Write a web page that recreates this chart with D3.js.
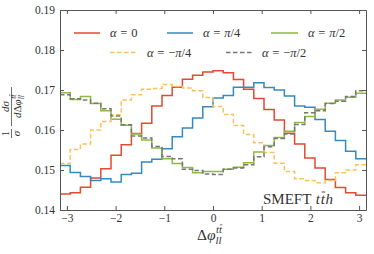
<!DOCTYPE html>
<html lang="en">
<head>
<meta charset="UTF-8">
<title>SMEFT tth</title>
<script src="https://d3js.org/d3.v7.min.js"></script>
<style>
  body { margin: 0; background: #fff; }
  svg { display: block; }
  text { font-family: "Liberation Serif", serif; fill: #333; }
</style>
</head>
<body>
<svg id="chart" width="374" height="254"></svg>
<script>
// normalised distributions, 30 bins over [-pi, pi]
const alphaZero = [0.1440, 0.1443, 0.1457, 0.1480, 0.1503, 0.1537, 0.1563, 0.1591, 0.1617, 0.1660,
                   0.1686, 0.1707, 0.1727, 0.1737, 0.1745, 0.1748, 0.1743, 0.1726, 0.1702, 0.1679,
                   0.1651, 0.1625, 0.1592, 0.1565, 0.1530, 0.1505, 0.1476, 0.1456, 0.1443, 0.1437];
const alphaPi4 = [0.1511, 0.1494, 0.1484, 0.1474, 0.1478, 0.1470, 0.1489, 0.1492, 0.1520, 0.1527,
                  0.1553, 0.1583, 0.1605, 0.1630, 0.1658, 0.1680, 0.1686, 0.1707, 0.1707, 0.1718,
                  0.1706, 0.1700, 0.1685, 0.1660, 0.1657, 0.1626, 0.1597, 0.1574, 0.1547, 0.1528];
const alphaPi2 = [0.1693, 0.1676, 0.1684, 0.1666, 0.1648, 0.1627, 0.1612, 0.1590, 0.1575, 0.1555,
                  0.1528, 0.1516, 0.1506, 0.1493, 0.1496, 0.1496, 0.1502, 0.1507, 0.1518, 0.1545,
                  0.1561, 0.1581, 0.1597, 0.1619, 0.1634, 0.1652, 0.1667, 0.1675, 0.1682, 0.1692];
const alphaMinusPi4 = [0.1516, 0.1551, 0.1565, 0.1600, 0.1621, 0.1638, 0.1675, 0.1688, 0.1702, 0.1704,
                       0.1714, 0.1709, 0.1705, 0.1698, 0.1681, 0.1659, 0.1639, 0.1611, 0.1589, 0.1568,
                       0.1544, 0.1517, 0.1496, 0.1478, 0.1474, 0.1468, 0.1474, 0.1493, 0.1500, 0.1513];
const alphaMinusPi2 = [0.1688, 0.1678, 0.1675, 0.1667, 0.1653, 0.1635, 0.1613, 0.1585, 0.1580, 0.1559,
                       0.1534, 0.1528, 0.1502, 0.1499, 0.1490, 0.1489, 0.1502, 0.1505, 0.1513, 0.1533,
                       0.1558, 0.1579, 0.1590, 0.1614, 0.1643, 0.1648, 0.1666, 0.1672, 0.1684, 0.1698];

const xTicks = [-3, -2, -1, 0, 1, 2, 3];
const yTicks = [0.14, 0.15, 0.16, 0.17, 0.18, 0.19];

const series = [
  { values: alphaZero,     color: "#E24A33", dash: null,  label: "0" },
  { values: alphaPi4,      color: "#348ABD", dash: null,  label: "π/4" },
  { values: alphaPi2,      color: "#8EBA42", dash: null,  label: "π/2" },
  { values: alphaMinusPi4, color: "#FBC15E", dash: "4.5,2.5", label: "−π/4" },
  { values: alphaMinusPi2, color: "#777777", dash: "4.5,2.5", label: "−π/2" }
];

const margin = { left: 60, top: 10, right: 8, bottom: 44 };
const W = 374, H = 254;
const pw = W - margin.left - margin.right;
const ph = H - margin.top - margin.bottom;

const svg = d3.select("#chart");
const plot = svg.append("g").attr("transform", `translate(${margin.left},${margin.top})`);

const x = d3.scaleLinear().domain([-Math.PI, Math.PI]).range([0, pw]);
const y = d3.scaleLinear().domain([0.14, 0.19]).range([ph, 0]);

const nBins = alphaZero.length;
const edges = d3.range(nBins + 1).map(i => -Math.PI + i * 2 * Math.PI / nBins);

svg.append("defs").append("clipPath").attr("id", "clip")
  .append("rect").attr("width", pw).attr("height", ph);

const line = d3.line().x(d => x(d[0])).y(d => y(d[1])).curve(d3.curveStepAfter);

const curves = plot.append("g").attr("clip-path", "url(#clip)");
series.forEach(s => {
  const pts = s.values.map((v, i) => [edges[i], v]);
  pts.push([edges[nBins], s.values[nBins - 1]]);
  curves.append("path")
    .attr("d", line(pts))
    .attr("fill", "none")
    .attr("stroke", s.color)
    .attr("stroke-width", 1.5)
    .attr("stroke-dasharray", s.dash);
});

// axes, ticks pointing inward on all sides
function styleAxis(g) {
  g.selectAll("path, line").attr("stroke", "#555");
  g.selectAll("text").attr("font-size", 11.5).attr("fill", "#444")
    .style("font-family", "'Liberation Serif', serif");
}
const fmtX = d => d < 0 ? "−" + Math.abs(d) : String(d);

plot.append("g").attr("transform", `translate(0,${ph})`)
  .call(d3.axisBottom(x).tickValues(xTicks).tickFormat(fmtX).tickSizeInner(-4).tickSizeOuter(0).tickPadding(4))
  .call(styleAxis);
plot.append("g")
  .call(d3.axisTop(x).tickValues(xTicks).tickFormat("").tickSizeInner(-4).tickSizeOuter(0))
  .call(styleAxis);
plot.append("g")
  .call(d3.axisLeft(y).tickValues(yTicks).tickFormat(d3.format(".2f")).tickSizeInner(-4).tickSizeOuter(0).tickPadding(5))
  .call(styleAxis);
plot.append("g").attr("transform", `translate(${pw},0)`)
  .call(d3.axisRight(y).tickValues(yTicks).tickFormat("").tickSizeInner(-4).tickSizeOuter(0))
  .call(styleAxis);

// little helper for math-ish text laid out piece by piece
function run(g, x0, y0, parts, fs) {
  let cx = x0;
  parts.forEach(p => {
    const t = g.append("text").attr("x", cx).attr("y", y0).attr("font-size", fs)
      .style("font-style", p.it ? "italic" : "normal").text(p.s);
    const w = t.node().getComputedTextLength();
    if (p.bar) {
      g.append("line").attr("x1", cx + w * 0.25).attr("x2", cx + w + w * 0.1)
        .attr("y1", y0 - fs * 0.8).attr("y2", y0 - fs * 0.8)
        .attr("stroke", "#333").attr("stroke-width", Math.max(0.6, fs * 0.06));
    }
    cx += w + (p.sp || 0);
  });
  return cx - x0;
}
function mathText(g, x0, y0, parts, fs) {
  let cx = x0;
  parts.forEach(p => {
    if (p.sup || p.sub) {
      let w = 0;
      if (p.sup) w = Math.max(w, run(g, cx + 0.5, y0 - fs * 0.42, p.sup, fs * 0.7));
      if (p.sub) w = Math.max(w, run(g, cx, y0 + fs * 0.28, p.sub, fs * 0.7));
      cx += w;
    } else {
      cx += run(g, cx, y0, [p], fs);
    }
  });
  return cx - x0;
}
function centred(parent, cx, y0, parts, fs) {
  const g = parent.append("g");
  const w = mathText(g, 0, y0, parts, fs);
  g.attr("transform", `translate(${cx - w / 2},0)`);
  return w;
}

const ttbar = [{ s: "t", it: true }, { s: "t", it: true, bar: true }];
const ll = [{ s: "ll", it: true }];

// legend
const legendRows = [
  [{ s: 0, x1: 74, x2: 100 }, { s: 1, x1: 167, x2: 193 }, { s: 2, x1: 271, x2: 298 }],
  [{ s: 3, x1: 110, x2: 137 }, { s: 4, x1: 226, x2: 252 }]
];
const rowY = [33, 52.5];
legendRows.forEach((row, r) => {
  row.forEach(e => {
    const s = series[e.s];
    svg.append("line").attr("x1", e.x1).attr("x2", e.x2).attr("y1", rowY[r]).attr("y2", rowY[r])
      .attr("stroke", s.color).attr("stroke-width", 1.5).attr("stroke-dasharray", s.dash);
    const lab = svg.append("g");
    const parts = [{ s: "α", it: true, sp: 3.8 }, { s: "=", sp: 3.8 }];
    if (s.label.includes("π")) {
      if (s.label.startsWith("−")) parts.push({ s: "−" });
      parts.push({ s: "π", it: true }, { s: s.label.slice(s.label.indexOf("π") + 1) });
    } else {
      parts.push({ s: s.label });
    }
    mathText(lab, e.x2 + 10, rowY[r] + 4, parts, 12.5);
  });
});

// SMEFT annotation
mathText(svg.append("g"), 263, 204, [{ s: "SMEFT", sp: 4.5 }, { s: "t", it: true, sp: 0.6 }, { s: "t", it: true, bar: true, sp: 0.6 }, { s: "h", it: true }], 15);

// x label
mathText(svg.append("g"), 197, 240, [{ s: "Δ" }, { s: "φ", it: true }, { sup: ttbar, sub: ll }], 15.5);

// y label, rotated
const yl = svg.append("g").attr("transform", "translate(11.5,112) rotate(-90)");
centred(yl, -21.5, -2.5, [{ s: "1" }], 11);
yl.append("line").attr("x1", -26).attr("x2", -17).attr("y1", 0).attr("y2", 0)
  .attr("stroke", "#333").attr("stroke-width", 0.7);
centred(yl, -21.5, 8, [{ s: "σ", it: true }], 11);
centred(yl, 5.5, -2.5, [{ s: "d", it: true }, { s: "σ", it: true }], 11);
yl.append("line").attr("x1", -14).attr("x2", 25).attr("y1", 0).attr("y2", 0)
  .attr("stroke", "#333").attr("stroke-width", 0.7);
centred(yl, 5.5, 9, [{ s: "d", it: true }, { s: "Δ" }, { s: "φ", it: true }, { sup: ttbar, sub: ll }], 11);
</script>
</body>
</html>
